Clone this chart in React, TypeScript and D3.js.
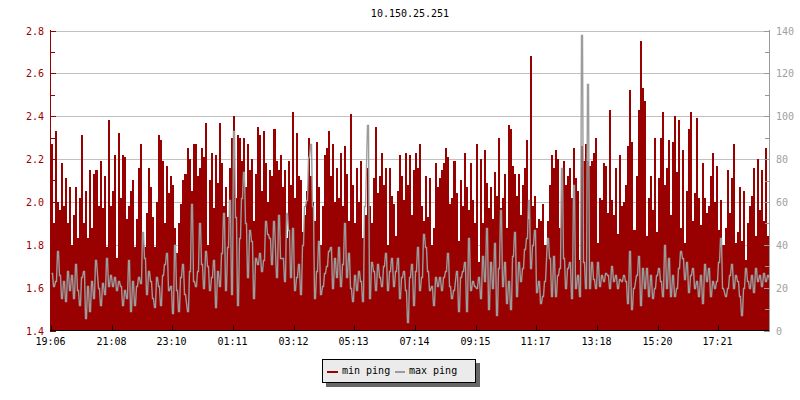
import React from 'react';
import * as d3 from 'd3';

const title = '10.150.25.251';
const xTickLabels = ['19:06', '21:08', '23:10', '01:11', '03:12', '05:13', '07:14', '09:15', '11:17', '13:18', '15:20', '17:21'];
const pointsPerTick = 30;
const leftTicks = [1.4, 1.6, 1.8, 2.0, 2.2, 2.4, 2.6, 2.8];
const rightTicks = [0, 20, 40, 60, 80, 100, 120, 140];
const legendLabels = ['min ping', 'max ping'];

// min ping (left axis)
const minPing = [
  2.27, 1.9, 2.33, 2.0, 1.96, 2.18, 1.98, 2.11, 1.9, 2.07, 1.8, 1.94, 2.07, 1.83, 2.02, 2.31, 1.9, 2.05, 1.83, 2.15, 1.88, 2.13, 2.15, 1.98, 2.19, 1.97, 2.12, 1.79, 2.38, 1.98, 2.05, 2.22, 1.74, 2.32, 2.02, 2.22, 2.21, 1.92, 1.98, 2.05, 2.1, 1.79, 1.92, 2.16, 2.27, 1.86, 1.79, 1.95, 2.16, 2.07, 1.93, 1.79, 2.0, 2.31, 2.29, 2.19, 1.9, 2.17, 2.04, 2.12, 2.08, 1.88, 1.76, 1.9, 1.99, 2.1, 2.13, 2.25, 2.2, 2.05, 2.27,
  2.27, 2.12, 2.16, 2.25, 2.21, 2.37, 1.8, 2.1, 2.23, 1.97, 2.22, 2.09, 2.37, 2.18, 1.98, 2.07, 1.93, 2.16, 2.3, 2.4, 2.02, 2.31, 2.3, 2.19, 2.3, 2.07, 2.27, 2.15, 2.2, 1.91, 2.13, 2.35, 2.31, 2.05, 2.33, 2.18, 2.0, 2.15, 2.12, 2.34, 2.19, 2.15, 2.22, 2.07, 2.15, 1.83, 2.19, 2.08, 2.42, 2.02, 2.32, 2.12, 2.1, 1.86, 1.94, 2.05, 2.3, 2.12, 2.0, 1.91, 2.28, 2.07, 1.8, 1.98, 2.22, 2.25, 2.33, 2.12, 2.27, 2.0, 2.16,
  2.02, 2.23, 1.98, 2.26, 2.13, 1.91, 2.41, 2.08, 1.9, 2.16, 2.0, 2.19, 1.83, 1.94, 2.16, 1.98, 1.9, 2.11, 2.35, 2.04, 2.12, 2.23, 2.08, 2.16, 1.8, 2.16, 2.03, 1.99, 1.84, 2.05, 2.22, 2.12, 2.01, 2.23, 2.08, 2.22, 1.94, 2.15, 2.23, 2.16, 2.27, 1.98, 1.91, 2.12, 1.93, 2.11, 1.8, 1.88, 2.18, 2.07, 2.11, 2.15, 2.18, 2.25, 2.21, 1.99, 2.02, 2.19, 2.04, 1.82, 2.1, 1.98, 2.23, 2.07, 1.96, 2.18, 2.01, 1.9, 2.27, 1.72, 2.2,
  1.9, 2.24, 2.09, 1.97, 2.07, 1.92, 2.14, 2.03, 2.3, 1.97, 2.02, 2.13, 1.88, 2.36, 2.34, 2.17, 2.13, 2.03, 2.13, 1.94, 2.08, 2.16, 2.29, 1.92, 2.68, 1.98, 2.03, 1.88, 1.92, 1.91, 1.99, 1.8, 1.91, 2.08, 2.22, 2.16, 2.24, 2.2, 1.88, 2.14, 2.19, 2.08, 2.12, 2.16, 2.02, 2.25, 2.11, 2.05, 1.73, 2.26, 2.19, 2.27, 2.19, 2.17, 2.19, 2.23, 2.3, 1.81, 2.02, 2.01, 2.18, 2.17, 1.95, 2.43, 2.01, 1.94, 2.16, 1.85, 2.22, 1.98, 2.0,
  2.08, 2.26, 2.52, 2.28, 1.87, 2.12, 2.43, 2.75, 2.53, 2.47, 1.84, 2.02, 2.12, 1.96, 2.3, 1.86, 2.11, 2.3, 2.42, 2.08, 2.16, 2.29, 1.94, 2.28, 2.4, 2.14, 2.38, 1.88, 2.24, 1.81, 2.05, 2.34, 2.42, 1.91, 2.04, 2.39, 2.02, 1.89, 2.18, 2.02, 1.95, 1.98, 2.12, 2.23, 2.0, 2.17, 1.87, 2.01, 1.8, 1.88, 2.15, 1.95, 2.11, 2.27, 1.81, 1.86, 2.07, 1.82, 2.05, 1.73, 1.9, 1.98, 2.03, 2.16, 1.84, 2.2, 1.96, 2.15, 1.91, 2.25, 1.84, 2.42,
];

// max ping (right axis)
const maxPing = [
  27, 21, 23, 37, 26, 15, 23, 14, 28, 19, 26, 15, 31, 19, 12, 25, 28, 6, 21, 9, 23, 15, 33, 20, 12, 22, 17, 34, 21, 26, 21, 25, 19, 23, 21, 12, 19, 15, 33, 9, 23, 12, 21, 25, 22, 46, 34, 17, 28, 23, 15, 11, 25, 21, 12, 26, 31, 36, 19, 21, 8, 40, 19, 9, 25, 31, 17, 9, 28, 59, 23,
  21, 28, 50, 31, 20, 37, 30, 19, 25, 33, 11, 28, 21, 36, 55, 19, 39, 61, 17, 93, 53, 12, 43, 62, 74, 50, 25, 47, 42, 15, 34, 31, 36, 28, 33, 51, 45, 43, 31, 51, 25, 54, 34, 34, 23, 55, 47, 25, 48, 19, 25, 31, 17, 40, 58, 61, 81, 87, 58, 15, 28, 42, 17, 21, 27, 30, 37, 39, 20, 34, 25,
  39, 21, 31, 50, 25, 36, 20, 14, 26, 19, 28, 23, 14, 58, 96, 15, 32, 28, 19, 31, 25, 21, 30, 36, 19, 28, 34, 21, 28, 34, 15, 25, 28, 19, 4, 25, 31, 12, 28, 39, 19, 25, 45, 39, 28, 19, 21, 12, 25, 21, 25, 19, 25, 28, 36, 21, 15, 19, 28, 9, 25, 28, 32, 9, 43, 19, 23, 21, 20, 25, 15,
  35, 23, 48, 10, 32, 20, 41, 7, 29, 56, 21, 32, 13, 23, 10, 35, 46, 16, 32, 23, 29, 38, 43, 61, 29, 40, 47, 18, 23, 13, 16, 23, 43, 34, 16, 35, 16, 26, 29, 76, 34, 20, 29, 32, 15, 68, 20, 26, 16, 138, 32, 20, 115, 20, 32, 24, 20, 32, 21, 26, 23, 27, 26, 20, 30, 23, 26, 20, 24, 23, 26,
  23, 13, 37, 10, 20, 26, 35, 12, 29, 20, 29, 16, 26, 15, 20, 26, 29, 23, 16, 40, 20, 34, 16, 26, 16, 20, 29, 37, 34, 24, 32, 18, 26, 29, 20, 23, 16, 26, 13, 31, 23, 29, 16, 23, 20, 23, 32, 43, 20, 16, 20, 26, 31, 20, 26, 23, 16, 7, 20, 29, 23, 20, 26, 18, 29, 23, 26, 21, 27, 23, 26, 24,
];

const RED = '#990000';
const GRAY = '#9c9c9c';
const FONT = '"DejaVu Sans Mono", monospace';

export default function App() {
  const n = minPing.length;
  const plotL = 51;
  const plotR = 769;
  const top = 30.5;
  const bottom = 330.5;

  const x = d3.scaleLinear().domain([0, n - 1]).range([plotL, plotR]);
  const step = x(1) - x(0);
  const yL = d3.scaleLinear().domain([1.4, 2.8]).range([bottom, top]);
  const yR = d3.scaleLinear().domain([0, 140]).range([bottom, top]);

  const pts = minPing.map((v, i) => ({ px: Math.round(x(i)), v }));
  pts.push({ px: Math.round(x(n - 1) + step), v: minPing[n - 1] });
  const area = d3
    .area<{ px: number; v: number }>()
    .x((d) => d.px)
    .y0(bottom - 0.5)
    .y1((d) => Math.round(yL(d.v)))
    .curve(d3.curveStepAfter);

  // each sample occupies a 1px flat top, joined to the next by a near-vertical stroke
  const gpts = maxPing.flatMap((v, i) => {
    const px = Math.round(x(i)) + 0.5;
    return [
      { px, v },
      { px: px + 1, v },
    ];
  });
  const line = d3
    .line<{ px: number; v: number }>()
    .x((d) => d.px)
    .y((d) => Math.round(yR(d.v)) + 0.5)
    .curve(d3.curveLinear);

  const leftMinor = d3.range(1.5, 2.8, 0.2);
  const rightMinor = d3.range(10, 140, 20);

  return (
    <svg width={800} height={400} style={{ position: 'absolute', left: 0, top: 0, background: '#fff' }} fontFamily={FONT} fontSize={10}>
      <rect x={0} y={0} width={800} height={400} fill="#fff" />
      <text x={410} y={17} textAnchor="middle" fill="#000">{title}</text>

      <defs>
        <clipPath id="plotClip">
          <rect x={51} y={top - 0.5} width={718} height={bottom - top} />
        </clipPath>
      </defs>

      {/* grid */}
      {leftTicks.filter((t) => t > 1.41).map((t) => (
        <line key={'g' + t} x1={51} x2={769} y1={Math.round(yL(t)) + 0.5} y2={Math.round(yL(t)) + 0.5} stroke="#c0c0c0" />
      ))}

      <g clipPath="url(#plotClip)">
        <path d={area(pts) || ''} fill={RED} />
        <path d={line(gpts) || ''} fill="none" stroke={GRAY} strokeWidth={1.4} strokeLinejoin="miter" strokeMiterlimit={3} />
      </g>

      {/* left axis */}
      <line x1={50.5} x2={50.5} y1={top - 0.5} y2={bottom} stroke={RED} />
      {leftTicks.map((t) => (
        <g key={'l' + t}>
          <line x1={50} x2={56} y1={Math.round(yL(t)) + 0.5} y2={Math.round(yL(t)) + 0.5} stroke={RED} />
          <text x={44} y={Math.round(yL(t)) + 4} textAnchor="end" fill={RED}>{t.toFixed(1)}</text>
        </g>
      ))}
      {leftMinor.map((t) => (
        <line key={'lm' + t} x1={50} x2={55} y1={Math.round(yL(t)) + 0.5} y2={Math.round(yL(t)) + 0.5} stroke={RED} />
      ))}

      {/* right axis */}
      <line x1={769.5} x2={769.5} y1={top - 0.5} y2={bottom + 0.5} stroke="#999" />
      {rightTicks.map((t) => (
        <g key={'r' + t}>
          <line x1={764} x2={770} y1={Math.round(yR(t)) + 0.5} y2={Math.round(yR(t)) + 0.5} stroke="#999" />
          <text x={776} y={Math.round(yR(t)) + 4} textAnchor="start" fill="#a0a0a0">{t}</text>
        </g>
      ))}
      {rightMinor.map((t) => (
        <line key={'rm' + t} x1={765} x2={770} y1={Math.round(yR(t)) + 0.5} y2={Math.round(yR(t)) + 0.5} stroke="#999" />
      ))}

      {/* bottom axis */}
      <line x1={50} x2={769} y1={bottom} y2={bottom} stroke="#000" />
      {xTickLabels.map((lab, k) => {
        const tx = Math.round(x(k * pointsPerTick)) + 0.5;
        return (
          <g key={'x' + k}>
            <line x1={tx} x2={tx} y1={bottom} y2={bottom - 5} stroke="#000" />
            <text x={tx - 1} y={345} textAnchor="middle" fill="#000">{lab}</text>
          </g>
        );
      })}

      {/* legend */}
      <rect x={326} y={363} width={154} height={24} fill="#666" />
      <rect x={322.5} y={359.5} width={153} height={23} fill="#ebebeb" stroke="#000" />
      <line x1={327} x2={338} y1={372} y2={372} stroke={RED} strokeWidth={2} />
      <text x={342} y={374} fill="#000">{legendLabels[0]}</text>
      <line x1={395} x2={405} y1={372} y2={372} stroke={GRAY} strokeWidth={2} />
      <text x={409} y={374} fill="#000">{legendLabels[1]}</text>
    </svg>
  );
}
